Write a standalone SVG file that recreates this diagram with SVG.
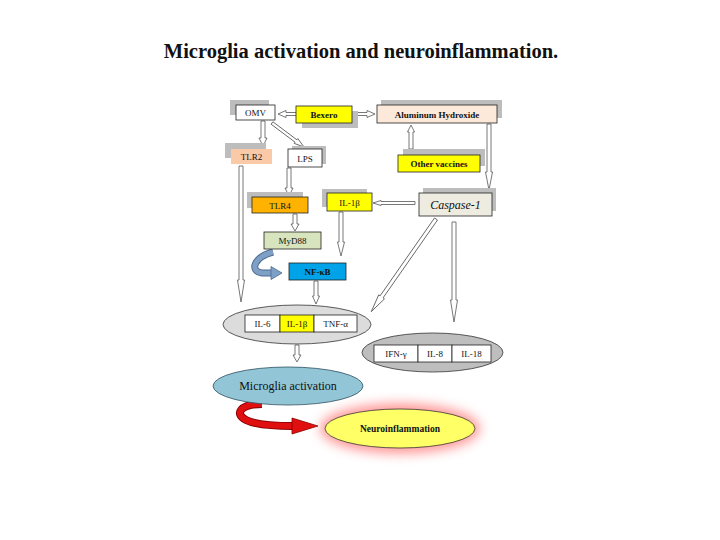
<svg xmlns="http://www.w3.org/2000/svg" width="720" height="540" viewBox="0 0 720 540">
<style>
.t{font-family:"Liberation Serif","Times New Roman",serif;fill:#111;text-anchor:middle}
.b{font-weight:bold}
.box{stroke:#222;stroke-width:0.8}
.sh{fill:#BDBDBD}
.ha{fill:#fff;stroke:#555;stroke-width:0.8}
.cell{fill:#fff;stroke:#222;stroke-width:0.8}
</style>
<defs>
<filter id="glow" x="-50%" y="-50%" width="200%" height="200%"><feGaussianBlur stdDeviation="6"/></filter>
</defs>
<rect width="720" height="540" fill="#fff"/>
<text class="t b" x="361" y="58" font-size="20.5">Microglia activation and neuroinflammation.</text>

<g id="connectors">
<path class="ha" transform="translate(302,114) rotate(180)" d="M0,-1.5 L16,-1.5 L16,-3.5 L24,0 L16,3.5 L16,1.5 L0,1.5 Z"/>
<path class="ha" transform="translate(354,114)" d="M0,-1.5 L13,-1.5 L13,-3.5 L21,0 L13,3.5 L13,1.5 L0,1.5 Z"/>
<path class="ha" transform="translate(263,121) rotate(90)" d="M0,-2 L17,-2 L17,-4 L25,0 L17,4 L17,2 L0,2 Z"/>
<path class="ha" transform="translate(272,123) rotate(36.87)" d="M0,-1.5 L30,-1.5 L30,-3 L40,0 L30,3 L30,1.5 L0,1.5 Z"/>
<path class="ha" transform="translate(411,149) rotate(-90)" d="M0,-2 L17,-2 L17,-3.5 L24,0 L17,3.5 L17,2 L0,2 Z"/>
<path class="ha" transform="translate(489,124) rotate(90)" d="M0,-2 L48,-2 L48,-3.5 L66,0 L48,3.5 L48,2 L0,2 Z"/>
<path class="ha" transform="translate(241,166) rotate(90)" d="M0,-2 L114,-2 L114,-3.5 L136,0 L114,3.5 L114,2 L0,2 Z"/>
<path class="ha" transform="translate(289,168) rotate(90)" d="M0,-2 L20,-2 L20,-4 L28,0 L20,4 L20,2 L0,2 Z"/>
<path class="ha" transform="translate(295,214) rotate(90)" d="M0,-2 L10,-2 L10,-4 L17,0 L10,4 L10,2 L0,2 Z"/>
<path class="ha" transform="translate(415,203) rotate(180)" d="M0,-1.5 L34,-1.5 L34,-2.5 L42,0 L34,2.5 L34,1.5 L0,1.5 Z"/>
<path class="ha" transform="translate(341,212) rotate(90)" d="M0,-2 L30,-2 L30,-3.5 L44,0 L30,3.5 L30,2 L0,2 Z"/>
<path class="ha" transform="translate(436,219) rotate(124.95)" d="M0,-1.8 L95,-1.8 L95,-3.5 L113,0 L95,3.5 L95,1.8 L0,1.8 Z"/>
<path class="ha" transform="translate(454,222) rotate(90)" d="M0,-2 L78,-2 L78,-3.5 L100,0 L78,3.5 L78,2 L0,2 Z"/>
<path class="ha" transform="translate(316,281) rotate(90)" d="M0,-2 L15,-2 L15,-3.5 L23,0 L15,3.5 L15,2 L0,2 Z"/>
<path class="ha" transform="translate(297,345) rotate(90)" d="M0,-2 L10,-2 L10,-4 L17,0 L10,4 L10,2 L0,2 Z"/>
<path d="M273,252 C254,257 249,271 262,273 L272,273" fill="none" stroke="#4A6A90" stroke-width="7"/>
<path d="M273,252 C254,257 249,271 262,273 L273,273" fill="none" stroke="#7FA0C6" stroke-width="5"/>
<polygon points="271,266.5 282,273 271,279.5" fill="#7FA0C6" stroke="#4A6A90" stroke-width="0.8"/>
<path d="M262,404 C240,404 234,414 246,420 C256,425 275,426 293,426" fill="none" stroke="#8B0000" stroke-width="8"/>
<path d="M262,404 C240,404 234,414 246,420 C256,425 275,426 294,426" fill="none" stroke="#E01010" stroke-width="6"/>
<polygon points="292,418 318,426 292,434" fill="#E01010" stroke="#8B0000" stroke-width="0.8"/>
</g>

<g id="omv"><rect class="sh" x="230" y="100" width="39" height="15"/><rect class="box" x="236" y="105" width="39" height="15" fill="#fff"/><text class="t" x="255.5" y="116" font-size="9">OMV</text></g>
<g id="bexero"><rect class="sh" x="302" y="111" width="56" height="17"/><rect class="box" x="296" y="106" width="56" height="17" fill="#FFFF00"/><text class="t b" x="324" y="118" font-size="9">Bexero</text></g>
<g id="aluminum"><rect class="sh" x="381" y="100" width="121" height="18"/><rect class="box" x="377" y="105" width="120" height="18" fill="#FDE9D9"/><text class="t b" x="437" y="117.5" font-size="9">Aluminum Hydroxide</text></g>
<g id="tlr2"><rect class="sh" x="225" y="143" width="41" height="15"/><rect x="231" y="149" width="41" height="15" fill="#FAC9A8"/><text class="t" x="251.5" y="159.5" font-size="9">TLR2</text></g>
<g id="lps"><rect class="sh" x="292" y="146" width="34" height="18"/><rect class="box" x="288" y="149" width="34" height="18" fill="#fff"/><text class="t" x="305" y="161.5" font-size="9">LPS</text></g>
<g id="other-vaccines"><rect class="sh" x="403" y="149" width="82" height="17"/><rect class="box" x="398" y="155" width="82" height="17" fill="#FFFF00"/><text class="t b" x="439" y="167" font-size="9">Other vaccines</text></g>
<g id="tlr4"><rect class="sh" x="247" y="192" width="56" height="16"/><rect class="box" x="252" y="197" width="56" height="16" fill="#FFB300"/><text class="t" x="280" y="208.5" font-size="9">TLR4</text></g>
<g id="il1b"><rect class="sh" x="322" y="189" width="45" height="18"/><rect class="box" x="327" y="193" width="45" height="18" fill="#FFFF00"/><text class="t" x="349.5" y="205.5" font-size="9">IL-1β</text></g>
<g id="caspase"><rect class="sh" x="423" y="188" width="73" height="23"/><rect class="box" x="419" y="193" width="73" height="23" fill="#EEECE1"/><text class="t" x="455.5" y="208.5" font-size="12" font-style="italic">Caspase-1</text></g>
<g id="myd88"><rect class="box" x="264" y="232" width="57" height="17" fill="#D7E4BD"/><text class="t" x="292.5" y="244" font-size="9">MyD88</text></g>
<g id="nfkb"><rect class="box" x="289" y="263" width="57" height="17" fill="#00A2E8"/><text class="t b" x="317.5" y="275" font-size="9">NF-κB</text></g>

<g id="cytokines1">
<ellipse cx="297" cy="324.5" rx="74" ry="19.5" fill="#DCDCDC" stroke="#333" stroke-width="0.8"/>
<rect class="cell" x="245" y="315" width="35" height="17"/>
<rect class="box" x="280" y="315" width="34" height="17" fill="#FFFF00"/>
<rect class="cell" x="314" y="315" width="43" height="17"/>
<text class="t" x="262.5" y="327" font-size="9">IL-6</text>
<text class="t" x="297" y="327" font-size="9">IL-1β</text>
<text class="t" x="335.5" y="327" font-size="9">TNF-α</text>
</g>
<g id="cytokines2">
<ellipse cx="432.5" cy="352.5" rx="70.5" ry="19.5" fill="#BEBEBE" stroke="#333" stroke-width="0.8"/>
<rect class="cell" x="374" y="345" width="44" height="17"/>
<rect class="cell" x="418" y="345" width="34" height="17"/>
<rect class="cell" x="452" y="345" width="39" height="17"/>
<text class="t" x="396" y="357" font-size="9">IFN-γ</text>
<text class="t" x="435" y="357" font-size="9">IL-8</text>
<text class="t" x="471.5" y="357" font-size="9">IL-18</text>
</g>
<g id="microglia">
<ellipse cx="288" cy="386" rx="75" ry="19" fill="#92C6D6" stroke="#2F4F5F" stroke-width="0.8"/>
<text class="t" x="288" y="390" font-size="12">Microglia activation</text>
</g>
<g id="neuroinflammation">
<ellipse cx="400" cy="428.5" rx="80" ry="25" fill="#FF4040" opacity="0.55" filter="url(#glow)"/>
<ellipse cx="400" cy="428.5" rx="75" ry="19.5" fill="#FFFF66" stroke="#333" stroke-width="0.8"/>
<text class="t b" x="400" y="432" font-size="9.5">Neuroinflammation</text>
</g>
</svg>
